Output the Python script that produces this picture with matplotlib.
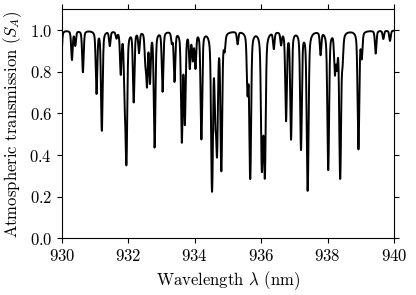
import numpy as np
import matplotlib
matplotlib.use("Agg")
from matplotlib import pyplot as plt

plt.rcParams['font.family'] = 'serif'
plt.rcParams['font.serif'] = ['cmr10']
plt.rcParams['mathtext.fontset'] = 'cm'
plt.rcParams['axes.formatter.use_mathtext'] = True

# absorption lines: centre (nm) and minimum transmission
line_centers = [929.97, 930.30, 930.40, 930.63, 931.04, 931.20, 931.44, 931.64,
                931.77, 931.89, 931.94, 932.16, 932.32, 932.51, 932.56, 932.65,
                932.79, 933.03, 933.31, 933.39, 933.61, 933.70, 933.85, 933.94,
                934.02, 934.20, 934.52, 934.62, 934.67, 934.80, 934.90, 935.29,
                935.59, 935.67, 936.02, 936.06, 936.11, 936.38, 936.60, 936.75,
                936.90, 937.20, 937.40, 937.79, 938.02, 938.22, 938.28, 938.38,
                938.45, 938.93, 939.03, 939.45, 939.68, 939.88]
line_minima = [0.80, 0.86, 0.93, 0.80, 0.70, 0.52, 0.93, 0.97,
               0.80, 0.70, 0.37, 0.66, 0.90, 0.87, 0.75, 0.76,
               0.44, 0.71, 0.95, 0.76, 0.47, 0.56, 0.83, 0.87,
               0.83, 0.48, 0.23, 0.62, 0.43, 0.33, 0.93, 0.94,
               0.72, 0.29, 0.36, 0.72, 0.31, 0.92, 0.94, 0.57,
               0.48, 0.43, 0.23, 0.89, 0.33, 0.81, 0.85, 0.29,
               0.88, 0.43, 0.88, 0.89, 0.96, 0.95]
continuum = 1.0
line_hwhm = 0.026

wl = np.linspace(930, 940, 4000)
tau = np.zeros_like(wl)
for c, m in zip(line_centers, line_minima):
    u = (wl - c) / line_hwhm
    profile = 0.6 * np.exp(-np.log(2) * u ** 2) + 0.4 / (1 + u ** 2)
    tau += -np.log(m / continuum) * profile
trans = continuum * np.exp(-tau)

fig = plt.figure(figsize=(4.16, 2.95), dpi=100)
ax = fig.add_axes([0.149, 0.192, 0.798, 0.776])
ax.plot(wl, trans, color='black', lw=1.4)
ax.set_xlim(930, 940)
ax.set_ylim(0, 1.1)
ax.set_xticks(np.arange(930, 941, 2))
ax.set_yticks(np.arange(0, 1.01, 0.2))
ax.tick_params(direction='out', length=3.5, width=0.8, top=True, right=True,
               labelsize=12)
ax.set_xlabel(r'Wavelength $\lambda$ (nm)', fontsize=12)
ax.set_ylabel(r'Atmospheric transmission ($S_A$)', fontsize=12)
fig.savefig('out.png', dpi=100)
